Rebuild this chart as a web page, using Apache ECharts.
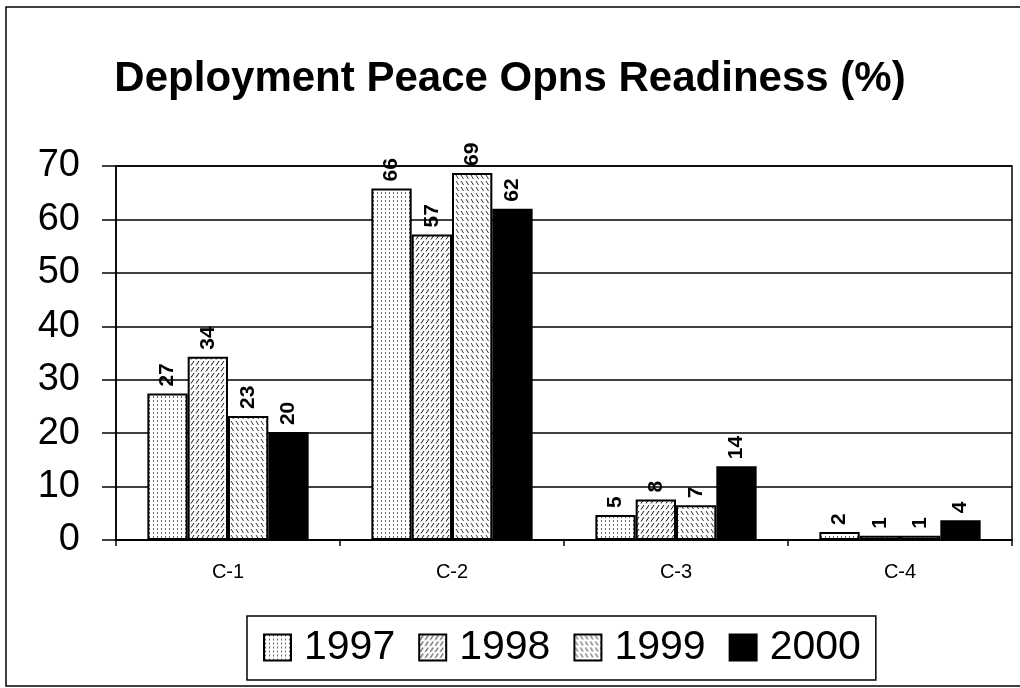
<!DOCTYPE html>
<html>
<head>
<meta charset="utf-8">
<script src="https://cdn.jsdelivr.net/npm/echarts@6/dist/echarts.min.js"></script>
<style>
  html, body { margin: 0; padding: 0; background: #fff; }
  #chart { width: 1020px; height: 688px; }
</style>
</head>
<body>
<div id="chart"></div>
<script>
const categories = ['C-1', 'C-2', 'C-3', 'C-4']
const years = ['1997', '1998', '1999', '2000']
const v1997 = [27.4, 65.8, 4.7, 1.5]
const v1998 = [34.3, 57.2, 7.6, 0.8]
const v1999 = [23.2, 68.7, 6.5, 0.8]
const v2000 = [20.2, 62.0, 13.8, 3.7]
const yTicks = [0, 10, 20, 30, 40, 50, 60, 70]

const FONT = '"Liberation Sans", Arial, sans-serif'

function pattern(w, h, draw) {
  const c = document.createElement('canvas')
  c.width = w
  c.height = h
  const ctx = c.getContext('2d')
  ctx.fillStyle = '#fff'
  ctx.fillRect(0, 0, w, h)
  draw(ctx)
  return { image: c, repeat: 'repeat' }
}

// dotted vertical stipple
const fill1997 = pattern(4, 4, (ctx) => {
  ctx.fillStyle = '#666'
  ctx.fillRect(1, 0, 1, 2)
})
// dense forward-slash dashes
const fill1998 = pattern(5, 6, (ctx) => {
  ctx.strokeStyle = '#111'
  ctx.lineWidth = 1
  ctx.beginPath()
  ctx.moveTo(1, 5.5)
  ctx.lineTo(4, 1)
  ctx.stroke()
})
// back-slash dashes, lighter
const fill1999 = pattern(5, 6, (ctx) => {
  ctx.strokeStyle = '#333'
  ctx.lineWidth = 1
  ctx.beginPath()
  ctx.moveTo(1, 1)
  ctx.lineTo(3.5, 5)
  ctx.stroke()
})
const fills = [fill1997, fill1998, fill1999, '#000']
const values = [v1997, v1998, v1999, v2000]

const chart = echarts.init(document.getElementById('chart'))

chart.setOption({
  animation: false,
  backgroundColor: '#fff',
  textStyle: { fontFamily: FONT, color: '#000' },
  title: {
    text: 'Deployment Peace Opns Readiness (%)',
    left: 'center',
    top: 53,
    textStyle: { fontFamily: FONT, fontSize: 42, fontWeight: 'bold', color: '#000' },
  },
  graphic: [
    {
      type: 'rect',
      shape: { x: 6, y: 7, width: 1030, height: 679 },
      style: { fill: 'none', stroke: '#000', lineWidth: 1.5 },
      silent: true,
    },
  ],
  legend: {
    data: years,
    left: 247,
    top: 616,
    orient: 'horizontal',
    itemWidth: 27,
    itemHeight: 26,
    itemGap: 23,
    padding: [11, 15, 12, 16],
    borderColor: '#000',
    borderWidth: 1.5,
    icon: 'rect',
    textStyle: { fontFamily: FONT, fontSize: 41, color: '#000', padding: [0, 0, 0, 8] },
  },
  grid: {
    left: 116,
    right: 8,
    top: 166,
    bottom: 148,
    show: true,
    borderColor: '#000',
    borderWidth: 1.5,
  },
  xAxis: {
    type: 'category',
    data: categories,
    axisLine: { lineStyle: { color: '#000', width: 1.5 } },
    axisTick: { show: true, length: 6, lineStyle: { color: '#000', width: 1.5 } },
    axisLabel: { fontFamily: FONT, fontSize: 20, color: '#000', margin: 22 },
  },
  yAxis: {
    type: 'value',
    min: yTicks[0],
    max: yTicks[yTicks.length - 1],
    interval: 10,
    axisLine: { show: true, lineStyle: { color: '#000', width: 1.5 } },
    axisTick: { show: true, length: 14, lineStyle: { color: '#000', width: 1.5 } },
    axisLabel: { fontFamily: FONT, fontSize: 38, color: '#000', margin: 36 },
    splitLine: { lineStyle: { color: '#000', width: 1.5 } },
  },
  series: years.map((y, i) => ({
    name: y,
    type: 'bar',
    data: values[i],
    barGap: '0%',
    barCategoryGap: '28%',
    itemStyle: { color: fills[i], borderColor: '#000', borderWidth: 2 },
    label: {
      show: true,
      position: 'top',
      rotate: 90,
      align: 'left',
      verticalAlign: 'middle',
      distance: 7,
      fontFamily: FONT,
      fontSize: 21,
      fontWeight: 'bold',
      color: '#000',
      formatter: (p) => Math.round(p.value),
    },
  })),
})
</script>
</body>
</html>
